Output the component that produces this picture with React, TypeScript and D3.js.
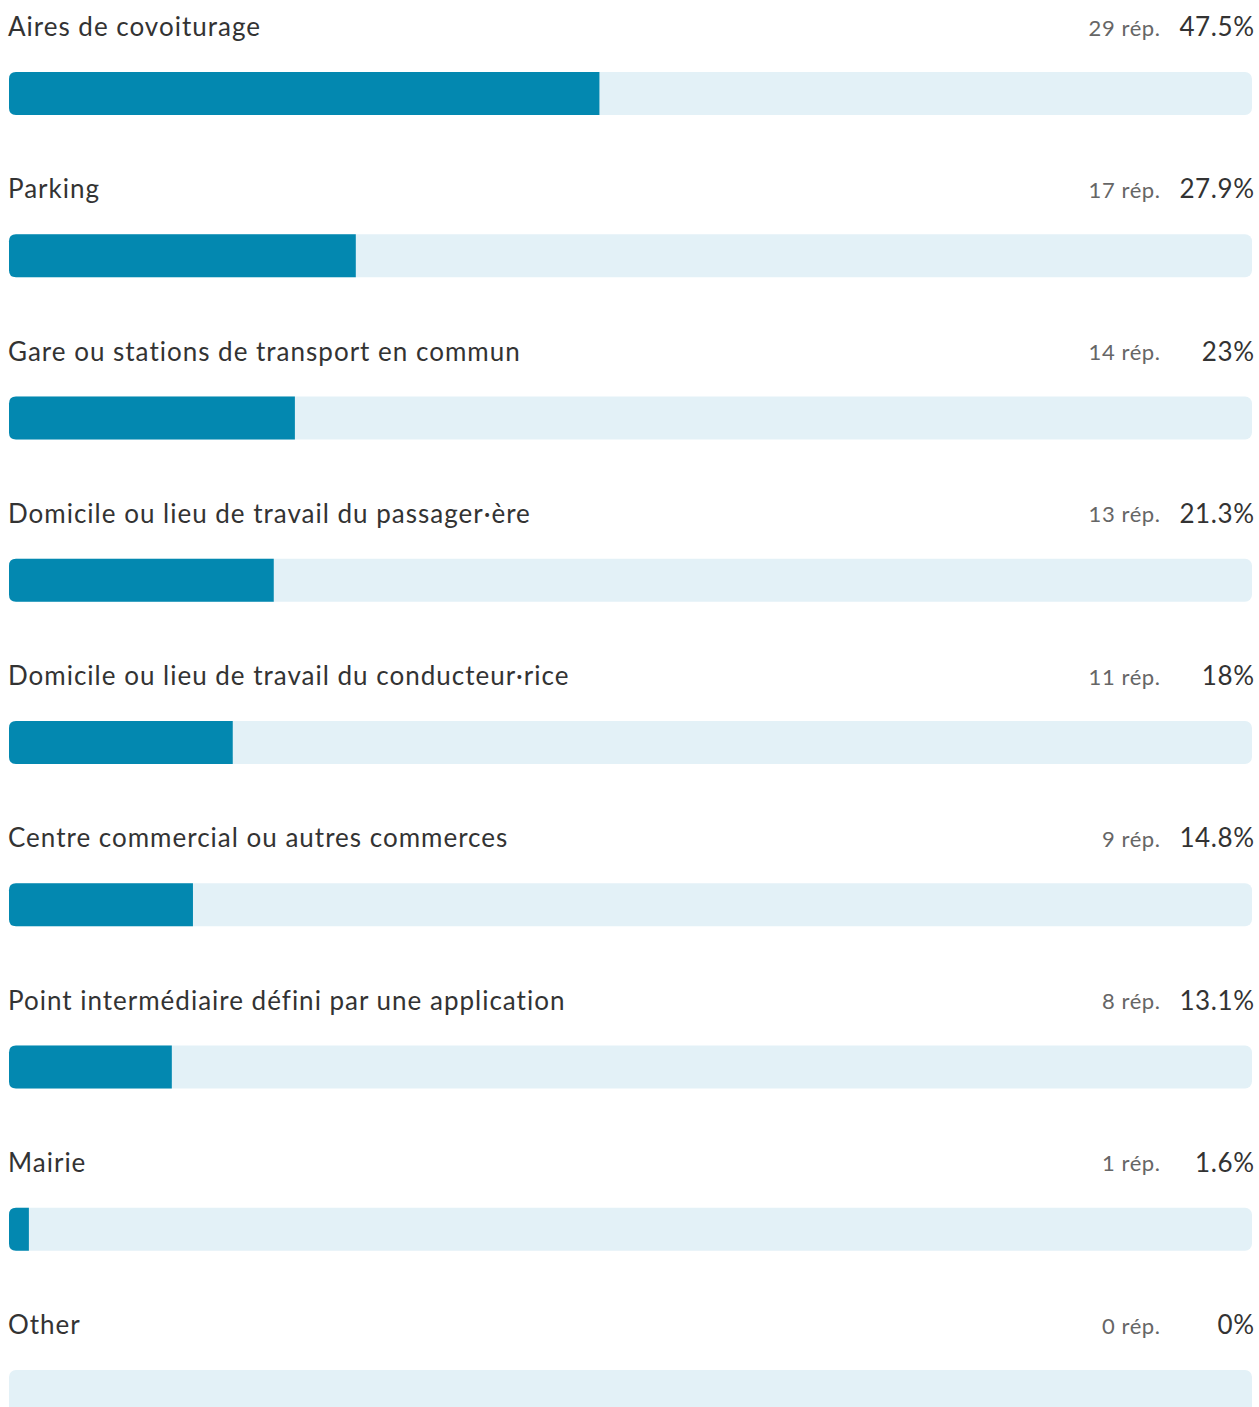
import { useEffect } from "react";
import * as d3 from "d3";

const categories = [
  "Aires de covoiturage",
  "Parking",
  "Gare ou stations de transport en commun",
  "Domicile ou lieu de travail du passager·ère",
  "Domicile ou lieu de travail du conducteur·rice",
  "Centre commercial ou autres commerces",
  "Point intermédiaire défini par une application",
  "Mairie",
  "Other",
];
const counts = [29, 17, 14, 13, 11, 9, 8, 1, 0];
const percents = [47.5, 27.9, 23, 21.3, 18, 14.8, 13.1, 1.6, 0];

const width = 1259;
const height = 1407;
const font = "Lato, 'Source Sans Pro', sans-serif";

const App = () => {
  useEffect(() => {
    document.body.style.margin = "0";
  }, []);

  const x = d3.scaleLinear().domain([0, 100]).range([9, 1252]);
  const y = d3
    .scaleBand()
    .domain(categories)
    .range([0, categories.length * 162.25]);
  const barTop = 72;
  const barH = 43;
  const r = 7;

  // left-rounded bar, square right end
  const fillPath = (w: number) => {
    const x0 = x(0);
    if (w <= 0) return "";
    const rr = Math.min(r, w);
    const p = d3.path();
    p.moveTo(x0 + w, 0);
    p.lineTo(x0 + rr, 0);
    p.quadraticCurveTo(x0, 0, x0, rr);
    p.lineTo(x0, barH - rr);
    p.quadraticCurveTo(x0, barH, x0 + rr, barH);
    p.lineTo(x0 + w, barH);
    p.closePath();
    return p.toString();
  };

  return (
    <svg width={width} height={height} style={{ display: "block" }}>
      {categories.map((c, i) => {
        const top = y(c)!;
        return (
          <g key={c} transform={`translate(0,${top})`}>
            <text
              x={8}
              y={36}
              fontFamily={font}
              fontSize={26}
              letterSpacing={1}
              fill="#333"
            >
              {c}
            </text>
            <text
              x={1160.6}
              y={35.5}
              textAnchor="end"
              fontFamily={font}
              fontSize={22}
              letterSpacing={0.6}
              fill="#666"
            >
              {`${counts[i]} rép.`}
            </text>
            <text
              x={1254.6}
              y={36}
              textAnchor="end"
              fontFamily={font}
              fontSize={26}
              letterSpacing={0.6}
              fill="#333"
            >
              {`${percents[i]}%`}
            </text>
            <g transform={`translate(0,${barTop})`}>
              <rect
                x={x(0)}
                y={0}
                width={x(100) - x(0)}
                height={barH}
                rx={r}
                fill="#e3f1f7"
              />
              <path d={fillPath(x(percents[i]) - x(0))} fill="#0388b0" />
            </g>
          </g>
        );
      })}
    </svg>
  );
};

export default App;
